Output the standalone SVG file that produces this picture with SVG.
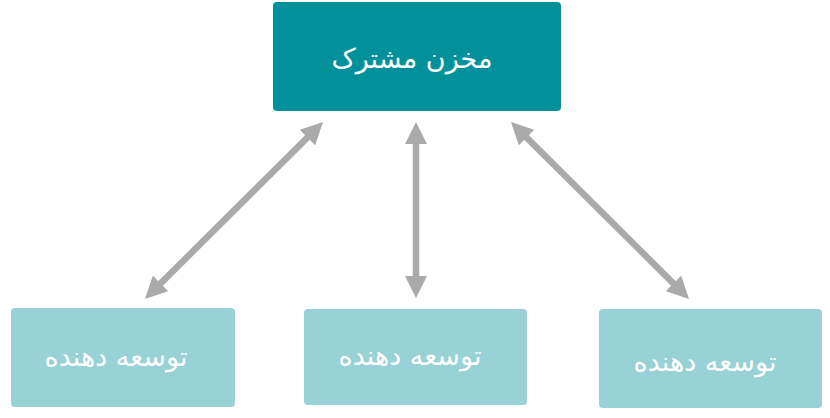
<svg xmlns="http://www.w3.org/2000/svg" width="830" height="418" viewBox="0 0 830 418">
<style>
.top{fill:#02919b}
.dev{fill:#98d1d6}
.lbl{font-family:"DejaVu Sans",sans-serif;fill:#ffffff;text-anchor:middle;dominant-baseline:central}
.conn{stroke:#aaaaaa;stroke-width:6.5;fill:none;marker-start:url(#ah);marker-end:url(#ah)}
</style>
<defs>
<marker id="ah" viewBox="0 0 10 10" refX="3" refY="5" markerWidth="22" markerHeight="22" markerUnits="userSpaceOnUse" orient="auto-start-reverse">
<path d="M0,0 L10,5 L0,10 z" fill="#aaaaaa"/>
</marker>
</defs>
<rect width="830" height="418" fill="#ffffff"/>
<g id="connectors">
<line class="conn" x1="312.1" y1="132.9" x2="155.9" y2="288.1"/>
<line class="conn" x1="416" y1="137.4" x2="416" y2="282.6"/>
<line class="conn" x1="521.9" y1="132.9" x2="678.1" y2="288.1"/>
</g>
<g id="shared-repo">
<rect class="top" x="273" y="2" width="288" height="109" rx="4"/>
<text class="lbl" x="412" y="58" font-size="27" direction="rtl">مخزن مشترک</text>
</g>
<g id="dev-left">
<rect class="dev" x="11" y="308" width="224" height="99" rx="4"/>
<text class="lbl" x="116" y="356" font-size="27" direction="rtl">توسعه دهنده</text>
</g>
<g id="dev-middle">
<rect class="dev" x="304" y="309" width="223" height="96" rx="4"/>
<text class="lbl" x="410" y="355" font-size="27" direction="rtl">توسعه دهنده</text>
</g>
<g id="dev-right">
<rect class="dev" x="599" y="309" width="223" height="99" rx="4"/>
<text class="lbl" x="705" y="361" font-size="27" direction="rtl">توسعه دهنده</text>
</g>
</svg>
